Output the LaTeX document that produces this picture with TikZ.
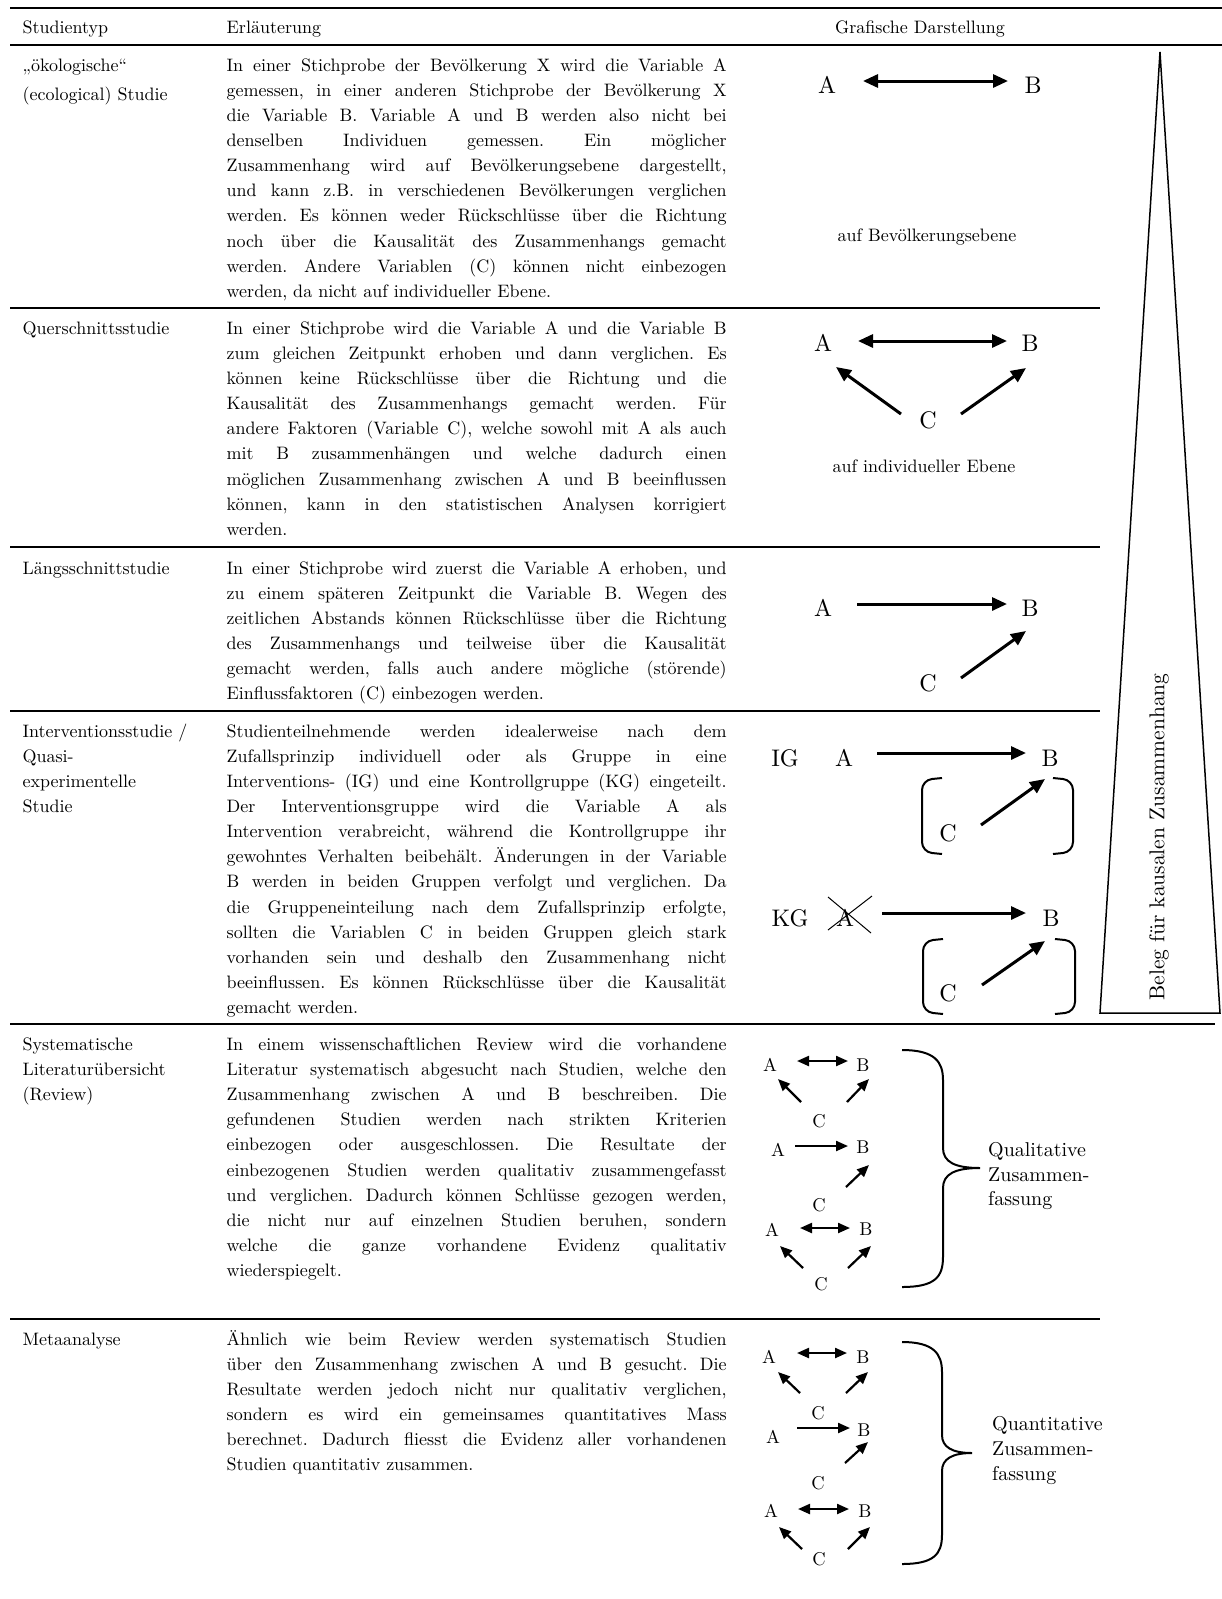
\documentclass[tikz,border=0pt]{standalone}
\usepackage{fontspec}
\setmainfont{lmroman10-regular.otf}[BoldFont=lmroman10-bold.otf, ItalicFont=lmroman10-italic.otf]
\usetikzlibrary{arrows.meta,calc}
\newcommand\bodyfont{\fontsize{18}{25.1}\selectfont}
\hyphenpenalty=10000
\exhyphenpenalty=10000
\frenchspacing
\tikzset{
  txt/.style={anchor=north west, inner sep=0pt, text width=500pt, align=justify, font=\bodyfont},
  typ/.style={anchor=north west, inner sep=0pt, text width=190pt, align=left, font=\bodyfont},
  head/.style={inner sep=0pt, font=\bodyfont},
  lbl/.style={anchor=base, inner sep=0pt, font=\bodyfont},
  big/.style={inner sep=0pt, font=\fontsize{24}{28}\selectfont},
  small/.style={inner sep=0pt, font=\fontsize{18.5}{22}\selectfont},
  arr/.style={line width=3pt, -{Triangle[length=15pt,width=13pt]}},
  dbl/.style={line width=3pt, {Triangle[length=15pt,width=13pt]}-{Triangle[length=15pt,width=13pt]}},
  sarr/.style={line width=2.2pt, -{Triangle[length=12pt,width=10pt]}},
  sdbl/.style={line width=2.2pt, {Triangle[length=12pt,width=10pt]}-{Triangle[length=12pt,width=10pt]}},
  rule/.style={line width=2pt},
  brk/.style={line width=2pt, rounded corners=10pt},
  brace/.style={line width=2pt},
}
\begin{document}
\begin{tikzpicture}[x=1pt,y=-1pt]
\useasboundingbox (0,0) rectangle (1222,1599);

% table rules
\draw [rule] (10,8) -- (1222,8);
\draw [rule] (10,45) -- (1222,45);
\foreach \y in {308,547,711,1319}
\draw [rule] (10,\y) -- (1100,\y);
\draw [rule] (10,1024) -- (1215,1024);

% header
\node [head, anchor=base west] (h1) at (22.4,33.4) {Studientyp};
\node [head, anchor=base west] (h2) at (226.5,33.4) {Erläuterung};
\node [head, anchor=base] (h3) at (920,33.4) {Grafische Darstellung};

% first column
\node [typ] (typ1) at (22.4,53.6) {\strut „ökologische“\\[4.5pt](ecological) Studie};
\node [typ] (typ2) at (22.4,316.7) {\strut Querschnittsstudie};
\node [typ] (typ3) at (22.4,556.4) {\strut Längsschnittstudie};
\node [typ] (typ4) at (22.4,719.6) {\strut Interventionsstudie /\\Quasi-\\experimentelle\\Studie};
\node [typ] (typ5) at (22.4,1032.8) {\strut Systematische\\Literaturübersicht\\(Review)};
\node [typ] (typ6) at (22.4,1327.6) {\strut Metaanalyse};

% second column
\node [txt] (txt1) at (226.5,53.6) {\strut In einer Stichprobe der Bevölkerung X wird die Variable A\linebreak
gemessen, in einer anderen Stichprobe der Bevölkerung X\linebreak
die Variable B. Variable A und B werden also nicht bei\linebreak
denselben Individuen gemessen. Ein möglicher\linebreak
Zusammenhang wird auf Bevölkerungsebene dargestellt,\linebreak
und kann z.B. in verschiedenen Bevölkerungen verglichen\linebreak
werden. Es können weder Rückschlüsse über die Richtung\linebreak
noch über die Kausalität des Zusammenhangs gemacht\linebreak
werden. Andere Variablen (C) können nicht einbezogen\linebreak
werden, da nicht auf individueller Ebene.};
\node [txt] (txt2) at (226.5,316.7) {\strut In einer Stichprobe wird die Variable A und die Variable B\linebreak
zum gleichen Zeitpunkt erhoben und dann verglichen. Es\linebreak
können keine Rückschlüsse über die Richtung und die\linebreak
Kausalität des Zusammenhangs gemacht werden. Für\linebreak
andere Faktoren (Variable C), welche sowohl mit A als auch\linebreak
mit B zusammenhängen und welche dadurch einen\linebreak
möglichen Zusammenhang zwischen A und B beeinflussen\linebreak
können, kann in den statistischen Analysen korrigiert\linebreak
werden.};
\node [txt] (txt3) at (226.5,556.4) {\strut In einer Stichprobe wird zuerst die Variable A erhoben, und\linebreak
zu einem späteren Zeitpunkt die Variable B. Wegen des\linebreak
zeitlichen Abstands können Rückschlüsse über die Richtung\linebreak
des Zusammenhangs und teilweise über die Kausalität\linebreak
gemacht werden, falls auch andere mögliche (störende)\linebreak
Einflussfaktoren (C) einbezogen werden.};
\node [txt] (txt4) at (226.5,719.6) {\strut Studienteilnehmende werden idealerweise nach dem\linebreak
Zufallsprinzip individuell oder als Gruppe in eine\linebreak
Interventions- (IG) und eine Kontrollgruppe (KG) eingeteilt.\linebreak
Der Interventionsgruppe wird die Variable A als\linebreak
Intervention verabreicht, während die Kontrollgruppe ihr\linebreak
gewohntes Verhalten beibehält. Änderungen in der Variable\linebreak
B werden in beiden Gruppen verfolgt und verglichen. Da\linebreak
die Gruppeneinteilung nach dem Zufallsprinzip erfolgte,\linebreak
sollten die Variablen C in beiden Gruppen gleich stark\linebreak
vorhanden sein und deshalb den Zusammenhang nicht\linebreak
beeinflussen. Es können Rückschlüsse über die Kausalität\linebreak
gemacht werden.};
\node [txt] (txt5) at (226.5,1032.8) {\strut In einem wissenschaftlichen Review wird die vorhandene\linebreak
Literatur systematisch abgesucht nach Studien, welche den\linebreak
Zusammenhang zwischen A und B beschreiben. Die\linebreak
gefundenen Studien werden nach strikten Kriterien\linebreak
einbezogen oder ausgeschlossen. Die Resultate der\linebreak
einbezogenen Studien werden qualitativ zusammengefasst\linebreak
und verglichen. Dadurch können Schlüsse gezogen werden,\linebreak
die nicht nur auf einzelnen Studien beruhen, sondern\linebreak
welche die ganze vorhandene Evidenz qualitativ\linebreak
wiederspiegelt.};
\node [txt] (txt6) at (226.5,1327.6) {\strut Ähnlich wie beim Review werden systematisch Studien\linebreak
über den Zusammenhang zwischen A und B gesucht. Die\linebreak
Resultate werden jedoch nicht nur qualitativ verglichen,\linebreak
sondern es wird ein gemeinsames quantitatives Mass\linebreak
berechnet. Dadurch fliesst die Evidenz aller vorhandenen\linebreak
Studien quantitativ zusammen.};

% evidence wedge
\draw [line width=1.5pt] (1160,52) -- (1220,1013) -- (1100,1013) -- cycle;
\node [rotate=90, inner sep=0pt, font=\fontsize{21.5}{25}\selectfont] (beleg) at (1159,837) {Beleg für kausalen Zusammenhang};

% ecological
\node [big] (a1) at (827,85) {A};
\node [big] (b1) at (1033,85) {B};
\draw [dbl] ($(a1)+(36,-4)$) -- ($(b1)+(-25,-4)$);
\node [lbl] (ebene1) at (927,241) {auf Bevölkerungsebene};

% cross-sectional
\node [big] (a2) at (823,343) {A};
\node [big] (b2) at (1030,343) {B};
\node [big] (c2) at (928,420) {C};
\draw [dbl] ($(a2)+(35,-2)$) -- ($(b2)+(-23,-2)$);
\draw [arr] ($(c2)+(-27,-6)$) -- ($(a2)+(13,24)$);
\draw [arr] ($(c2)+(33,-6)$) -- ($(b2)+(-4,25)$);
\node [lbl] (ebene2) at (924,472) {auf individueller Ebene};

% longitudinal
\node [big] (a3) at (823,608) {A};
\node [big] (b3) at (1030,608) {B};
\node [big] (c3) at (928,683) {C};
\draw [arr] ($(a3)+(34,-4)$) -- ($(b3)+(-23,-4)$);
\draw [arr] ($(c3)+(33,-5)$) -- ($(b3)+(-4,23)$);

% intervention
\node [big] (ig) at (785,758) {IG};
\node [big] (a4) at (844,758) {A};
\node [big] (b4) at (1050,758) {B};
\node [big] (c4) at (948,833) {C};
\draw [arr] ($(a4)+(33,-5)$) -- ($(b4)+(-24,-5)$);
\draw [arr] ($(c4)+(33,-8)$) -- ($(b4)+(-5,21)$);
\draw [brk] (942,778) -- (922,780) -- (922,852) -- (942,854);
\draw [brk] (1053,778) -- (1073,780) -- (1073,852) -- (1053,854);

\node [big] (kg) at (790,918) {KG};
\node [big] (a5) at (845,918) {A};
\node [big] (b5) at (1051,918) {B};
\node [big] (c5) at (948,993) {C};
\draw [line width=1pt] ($(a5)+(-17,-21)$) -- ($(a5)+(26,15)$);
\draw [line width=1pt] ($(a5)+(-17,12)$) -- ($(a5)+(27,-22)$);
\draw [arr] ($(a5)+(37,-5)$) -- ($(b5)+(-25,-5)$);
\draw [arr] ($(c5)+(34,-8)$) -- ($(b5)+(-6,23)$);
\draw [brk] (943,939) -- (923,941) -- (923,1012) -- (943,1014);
\draw [brk] (1055,939) -- (1075,941) -- (1075,1012) -- (1055,1014);

% review
\node [small] (p1a) at (770,1065) {A};
\node [small] (p1b) at (863,1065) {B};
\node [small] (p1c) at (819,1121) {C};
\draw [sdbl] ($(p1a)+(27,-4)$) -- ($(p1b)+(-15,-4)$);
\draw [sarr] ($(p1c)+(-18,-19)$) -- ($(p1a)+(8,14)$);
\draw [sarr] ($(p1c)+(28,-19)$) -- ($(p1b)+(6,14)$);
\node [small] (p2a) at (778,1150) {A};
\node [small] (p2b) at (863,1147) {B};
\node [small] (p2c) at (819,1205) {C};
\draw [sarr] ($(p2a)+(17,-4)$) -- ($(p2b)+(-15,-1)$);
\draw [sarr] ($(p2c)+(27,-18)$) -- ($(p2b)+(6,18)$);
\node [small] (p3a) at (772,1230) {A};
\node [small] (p3b) at (866,1229) {B};
\node [small] (p3c) at (821,1284) {C};
\draw [sdbl] ($(p3a)+(28,-2)$) -- ($(p3b)+(-16,-1)$);
\draw [sarr] ($(p3c)+(-18,-16)$) -- ($(p3a)+(8,16)$);
\draw [sarr] ($(p3c)+(27,-16)$) -- ($(p3b)+(5,17)$);
\draw [brace] (902,1050) .. controls (935,1050) and (943,1062) .. (943,1080) -- (943,1148)
  .. controls (943,1162) and (955,1168) .. (980,1168)
  .. controls (955,1168) and (943,1174) .. (943,1188) -- (943,1257)
  .. controls (943,1277) and (935,1287) .. (902,1287);
\node [anchor=north west, inner sep=0pt, align=left, font=\fontsize{20}{24.5}\selectfont] (qual) at (988,1139.5) {\strut Qualitative\\Zusammen-\\fassung};

% meta-analysis
\node [small] (q1a) at (769,1357) {A};
\node [small] (q1b) at (863,1357) {B};
\node [small] (q1c) at (818,1413) {C};
\draw [sdbl] ($(q1a)+(28,-4)$) -- ($(q1b)+(-16,-4)$);
\draw [sarr] ($(q1c)+(-18,-20)$) -- ($(q1a)+(9,15)$);
\draw [sarr] ($(q1c)+(28,-20)$) -- ($(q1b)+(5,15)$);
\node [small] (q2a) at (773,1437) {A};
\node [small] (q2b) at (864,1430) {B};
\node [small] (q2c) at (818,1483) {C};
\draw [sarr] ($(q2a)+(24,-9)$) -- ($(q2b)+(-14,-2)$);
\draw [sarr] ($(q2c)+(27,-20)$) -- ($(q2b)+(4,12)$);
\node [small] (q3a) at (771,1511) {A};
\node [small] (q3b) at (865,1511) {B};
\node [small] (q3c) at (819,1559) {C};
\draw [sdbl] ($(q3a)+(27,-2)$) -- ($(q3b)+(-16,-2)$);
\draw [sarr] ($(q3c)+(-17,-10)$) -- ($(q3a)+(8,16)$);
\draw [sarr] ($(q3c)+(29,-10)$) -- ($(q3b)+(5,16)$);
\draw [brace] (902,1342) .. controls (934,1342) and (942,1354) .. (942,1372) -- (942,1435)
  .. controls (942,1447) and (952,1453) .. (972,1453)
  .. controls (952,1453) and (942,1459) .. (942,1471) -- (942,1535)
  .. controls (942,1554) and (934,1564) .. (902,1564);
\node [anchor=north west, inner sep=0pt, align=left, font=\fontsize{20}{25}\selectfont] (quant) at (992,1412.5) {\strut Quantitative\\Zusammen-\\fassung};
\end{tikzpicture}
\end{document}
